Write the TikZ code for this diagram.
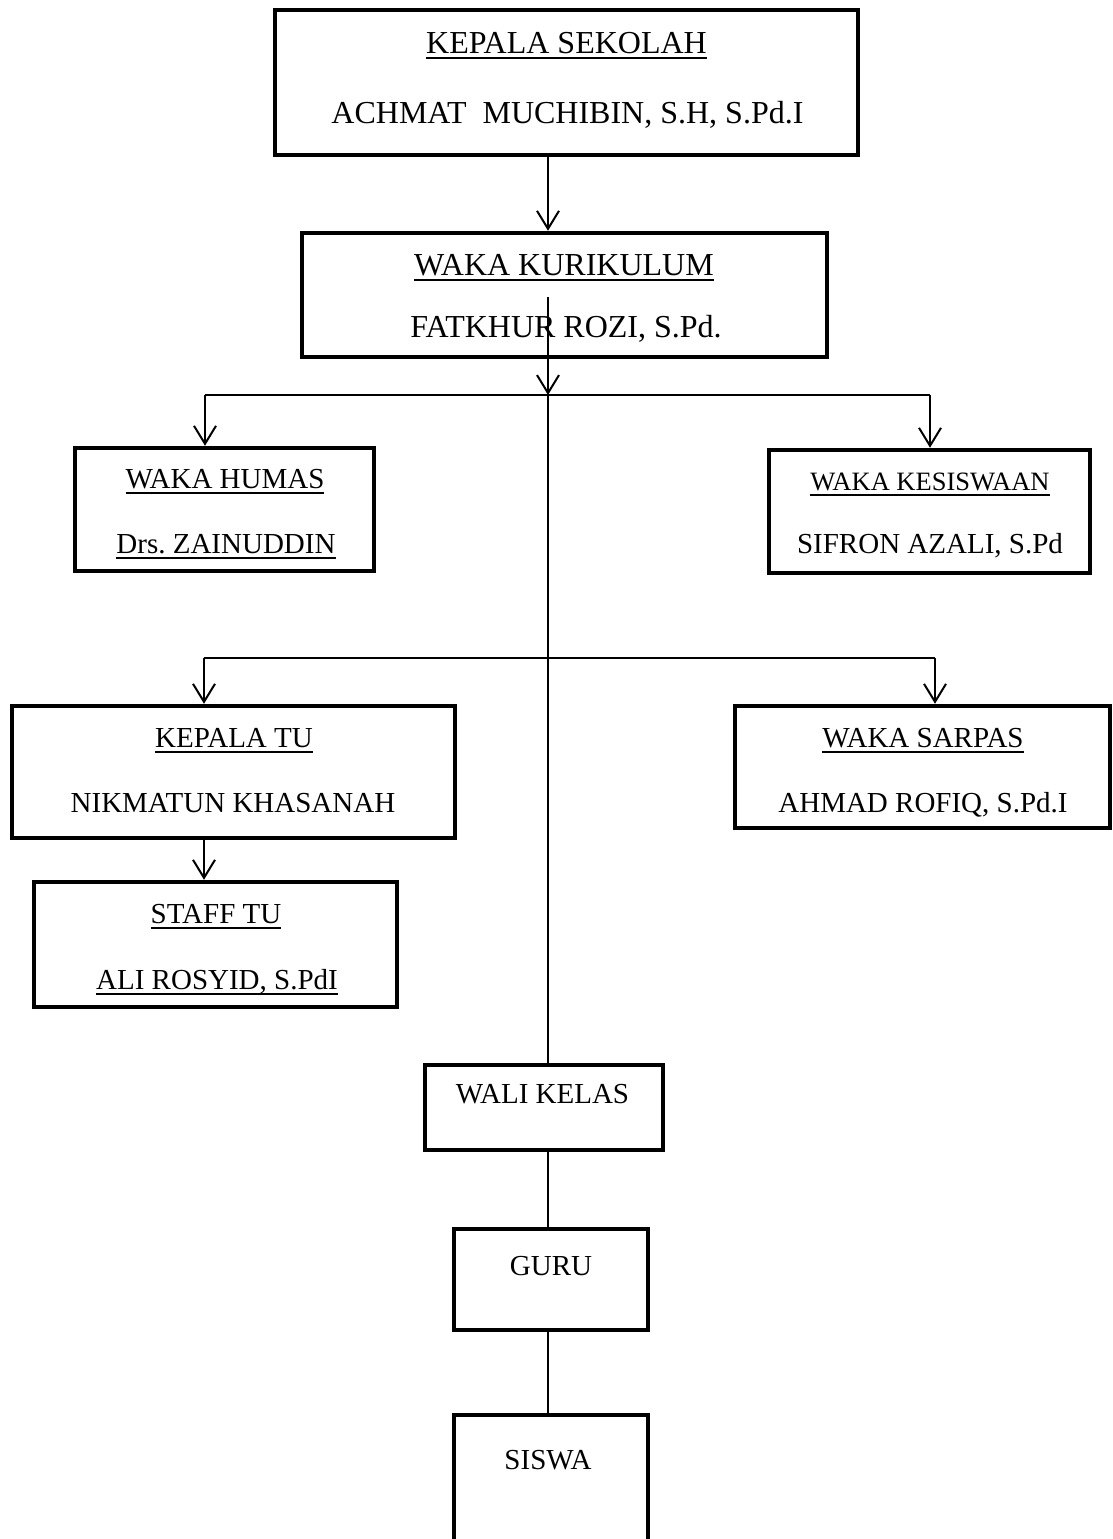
\documentclass[tikz,border=0pt]{standalone}
\usepackage{fontspec}
\setmainfont{Liberation Serif}
\usetikzlibrary{arrows.meta}
\newcommand{\myul}[1]{\setbox0\hbox{#1}\rlap{\rule[-5.8pt]{\wd0}{1.6pt}}\box0}
\frenchspacing
\begin{document}
\begin{tikzpicture}[x=1pt,y=-1pt,
  box/.style={draw=black, line width=4.5pt, inner sep=0pt, rectangle},
  lbl/.style={anchor=base, inner sep=0pt, font=\fontsize{29}{34}\selectfont},
  biglbl/.style={anchor=base, inner sep=0pt, font=\fontsize{32}{38}\selectfont},
  smalllbl/.style={anchor=base, inner sep=0pt, font=\fontsize{26.5}{31}\selectfont},
  conn/.style={line width=2pt, black},
  arr/.style={conn, -{Straight Barb[length=18pt,width=22pt,line width=2pt]}},
  spine/.style={line width=1.3pt, black}]
\clip (0,0) rectangle (1113,1539);
\fill[white] (0,0) rectangle (1113,1539);

% boxes
\node[box, minimum width=583, minimum height=145] (b1) at (566.5,82.5) {};
\node[box, minimum width=525, minimum height=124] (b2) at (564.5,295) {};
\node[box, minimum width=299, minimum height=123] (humas) at (224.5,509.5) {};
\node[box, minimum width=321, minimum height=123] (kesis) at (929.5,511.5) {};
\node[box, minimum width=443, minimum height=132] (ktu) at (233.5,772) {};
\node[box, minimum width=375, minimum height=122] (sarpas) at (922.5,767) {};
\node[box, minimum width=363, minimum height=125] (staff) at (215.5,944.5) {};
\node[box, minimum width=238, minimum height=85] (wali) at (544,1107.5) {};
\node[box, minimum width=194, minimum height=101] (guru) at (551,1279.5) {};
\node[box, minimum width=194, minimum height=150] (siswa) at (551,1490) {};

% texts
\node[biglbl] (b1t) at (566.5,53) {\myul{KEPALA SEKOLAH}};
\node[biglbl] (b1n) at (567.5,123) {ACHMAT\ \ MUCHIBIN, S.H, S.Pd.I};
\node[biglbl] (b2t) at (564,275) {\myul{WAKA KURIKULUM}};
\node[biglbl] (b2n) at (566,337) {FATKHUR ROZI, S.Pd.};
\node[lbl] (humast) at (225,488) {\myul{WAKA HUMAS}};
\node[lbl] (humasn) at (226,553) {\myul{Drs. ZAINUDDIN}};
\node[smalllbl] (kesist) at (930,490) {\myul{WAKA KESISWAAN}};
\node[lbl] (kesisn) at (930,553) {SIFRON AZALI, S.Pd};
\node[lbl] (ktut) at (234,747) {\myul{KEPALA TU}};
\node[lbl] (ktun) at (233,812) {NIKMATUN KHASANAH};
\node[lbl] (sarpast) at (923,747) {\myul{WAKA SARPAS}};
\node[lbl] (sarpasn) at (923,812) {AHMAD ROFIQ, S.Pd.I};
\node[lbl] (stafft) at (216,923) {\myul{STAFF TU}};
\node[lbl] (staffn) at (217,989) {\myul{ALI ROSYID, S.PdI}};
\node[lbl] (walit) at (542.5,1103) {WALI KELAS};
\node[lbl] (gurut) at (551,1275) {GURU};
\node[lbl] (siswat) at (548,1469) {SISWA};

% helper coordinates
\coordinate (cx) at (548,0);
\coordinate (ctop) at (548,297);
\coordinate (h1) at (548,395);
\coordinate (h1l) at (205,395);
\coordinate (h1r) at (930,395);
\coordinate (h2l) at (204,658);
\coordinate (h2r) at (935,658);

% connectors
\draw[arr] (b1.south -| cx) -- (b2.north -| cx);
\draw[arr] (b2.south -| cx) -- (h1);
\draw[conn] (h1l) -- (h1r);
\draw[arr] (h1l) -- (humas.north -| h1l);
\draw[arr] (h1r) -- (kesis.north -| h1r);
\draw[conn] (h2l) -- (h2r);
\draw[arr] (h2l) -- (ktu.north -| h2l);
\draw[arr] (h2r) -- (sarpas.north -| h2r);
\draw[arr] (ktu.south -| h2l) -- (staff.north -| h2l);
\draw[spine] (ctop) -- (wali.north -| cx);
\draw[conn] (wali.south -| cx) -- (guru.north -| cx);
\draw[conn] (guru.south -| cx) -- (siswa.north -| cx);
\end{tikzpicture}
\end{document}
